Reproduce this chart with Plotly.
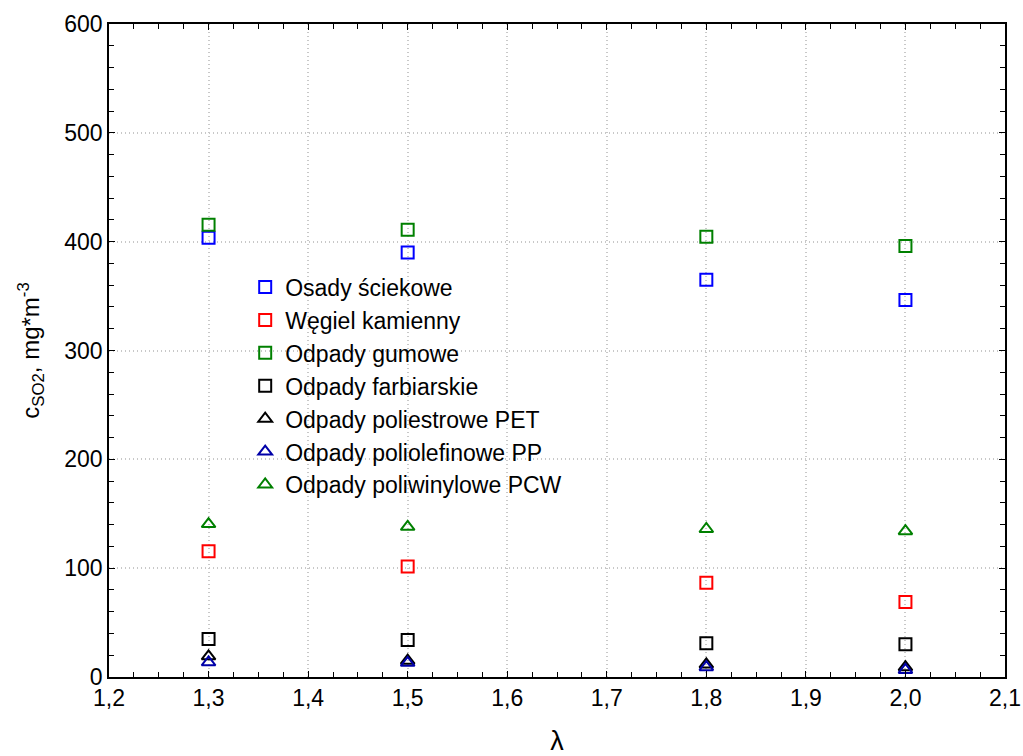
import plotly.graph_objects as go

# Excess air ratio values
lam = [1.3, 1.5, 1.8, 2.0]

# SO2 concentration in flue gas, mg*m^-3
osady_sciekowe = [403.5, 390, 365, 346.5]
wegiel_kamienny = [115.5, 101.5, 86.5, 69]
odpady_gumowe = [415.5, 411, 404.5, 396]
odpady_farbiarskie = [35, 34, 31, 30]
odpady_pet = [19, 15, 11.5, 9]
odpady_pp = [13.5, 13, 9, 6.5]
odpady_pcw = [140.5, 138, 136, 134]

series = [
    ("Osady ściekowe", osady_sciekowe, "square-open", "#0000ff"),
    ("Węgiel kamienny", wegiel_kamienny, "square-open", "#ff0000"),
    ("Odpady gumowe", odpady_gumowe, "square-open", "#008000"),
    ("Odpady farbiarskie", odpady_farbiarskie, "square-open", "#000000"),
    ("Odpady poliestrowe PET", odpady_pet, "triangle-up-open", "#000000"),
    ("Odpady poliolefinowe PP", odpady_pp, "triangle-up-open", "#0000a8"),
    ("Odpady poliwinylowe PCW", odpady_pcw, "triangle-up-open", "#008000"),
]

FONT = "Liberation Sans, Arial, sans-serif"

fig = go.Figure()
for name, vals, sym, col in series:
    fig.add_trace(go.Scatter(
        x=lam, y=vals, mode="markers", name=name,
        marker=dict(symbol=sym, size=12, color=col, line=dict(width=2, color=col)),
    ))

axis_common = dict(
    showline=True, linecolor="black", linewidth=1.5, mirror="ticks",
    ticks="inside", ticklen=6, tickwidth=1, tickcolor="black",
    showgrid=True, gridcolor="#c8c8c8", griddash="1px,3px", gridwidth=1.5,
    zeroline=False, automargin=False,
    tickfont=dict(family=FONT, size=23, color="black"),
)

fig.update_xaxes(
    range=[1.2, 2.1], dtick=0.1, tick0=1.2, tickformat=".1f",
    minor=dict(ticks="inside", dtick=0.025, ticklen=5, tickcolor="black", showgrid=False),
    title=dict(text="λ", font=dict(family=FONT, size=27, color="black"), standoff=30),
    **axis_common,
)
fig.update_yaxes(
    range=[0, 600], dtick=100,
    minor=dict(ticks="inside", dtick=20, ticklen=5, tickcolor="black", showgrid=False),
    title=dict(text="c<sub>SO2</sub>, mg*m<sup>-3</sup>",
               font=dict(family=FONT, size=24, color="black"), standoff=18),
    **axis_common,
)

fig.update_layout(
    width=1023, height=756,
    margin=dict(l=109, r=18, t=24, b=79),
    paper_bgcolor="white", plot_bgcolor="white",
    separators=", ",
    font=dict(family=FONT, color="black"),
    legend=dict(
        x=0.152, y=0.63, xanchor="left", yanchor="top",
        bgcolor="rgba(0,0,0,0)", borderwidth=0,
        font=dict(family=FONT, size=23, color="black"),
        itemsizing="trace", tracegroupgap=0,
    ),
)

fig.write_html("out.html")
